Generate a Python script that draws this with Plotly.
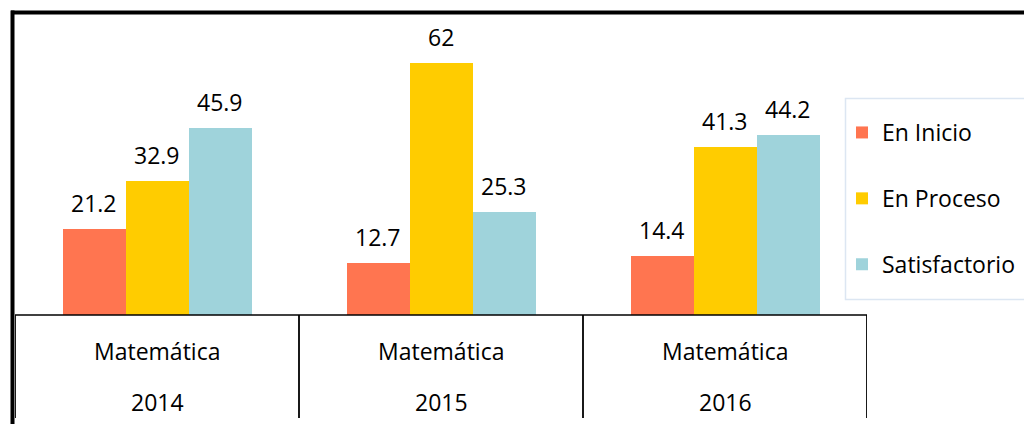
import plotly.graph_objects as go

categories = ["2014", "2015", "2016"]
subject = ["Matemática", "Matemática", "Matemática"]
series_names = ["En Inicio", "En Proceso", "Satisfactorio"]
en_inicio = [21.2, 12.7, 14.4]
en_proceso = [32.9, 62, 41.3]
satisfactorio = [45.9, 25.3, 44.2]
colors = ["#FF7550", "#FFCC00", "#9FD3DB"]

series = [en_inicio, en_proceso, satisfactorio]

W, H = 1024, 424
L, R, T, B = 15, 157, 12, 109
plot_w = W - L - R
plot_h = H - T - B

bar_w = 63 / (plot_w / 3)
FONT = "Open Sans"

fig = go.Figure()
idx = list(range(len(categories)))
for k, (name, vals, col) in enumerate(zip(series_names, series, colors)):
    xs = [i + (k - 1) * bar_w for i in idx]
    fig.add_trace(go.Bar(
        x=xs, y=vals, width=bar_w, name=name, marker_color=col,
        marker_line_width=0, legendgroup=name,
    ))
    for x, v in zip(xs, vals):
        fig.add_annotation(x=x, y=v, text=f"{v:g}", showarrow=False,
                           xref="x", yref="y", yanchor="middle", yshift=26,
                           font=dict(family=FONT, size=23, color="#000"))

# category table labels
for i, (s, c) in enumerate(zip(subject, categories)):
    fig.add_annotation(x=i, y=0, xref="x", yref="paper", text=s, showarrow=False,
                       yanchor="middle", yshift=-36,
                       font=dict(family=FONT, size=23, color="#000"))
    fig.add_annotation(x=i, y=0, xref="x", yref="paper", text=c, showarrow=False,
                       yanchor="middle", yshift=-87,
                       font=dict(family=FONT, size=23, color="#000"))

def px_to_paper_x(px):
    return (px - L) / plot_w

def px_to_paper_y(py):
    return (H - B - py) / plot_h

shapes = []
# separators
for xb in [-0.5, 0.5, 1.5, 2.5]:
    shapes.append(dict(type="line", xref="x", yref="paper", x0=xb, x1=xb,
                       y0=0, y1=px_to_paper_y(418), line=dict(color="#000", width=1.8)))
# axis line
shapes.append(dict(type="line", xref="paper", yref="paper", x0=0, x1=1, y0=0, y1=0,
                   line=dict(color="#000", width=1.6)))
# outer frame (top and left)
shapes.append(dict(type="line", xref="paper", yref="paper",
                   x0=px_to_paper_x(11), x1=px_to_paper_x(1030),
                   y0=px_to_paper_y(12.5), y1=px_to_paper_y(12.5),
                   line=dict(color="#000", width=4)))
shapes.append(dict(type="line", xref="paper", yref="paper",
                   x0=px_to_paper_x(12.5), x1=px_to_paper_x(12.5),
                   y0=px_to_paper_y(10.5), y1=px_to_paper_y(430),
                   line=dict(color="#000", width=4)))
# legend box
shapes.append(dict(type="rect", xref="paper", yref="paper",
                   x0=px_to_paper_x(845.5), x1=px_to_paper_x(1030),
                   y0=px_to_paper_y(299.5), y1=px_to_paper_y(98.5),
                   line=dict(color="#DCE6F2", width=1.5), fillcolor="rgba(0,0,0,0)"))

fig.update_layout(
    width=W, height=H,
    margin=dict(l=L, r=R, t=T, b=B, pad=0, autoexpand=False),
    paper_bgcolor="white", plot_bgcolor="white",
    barmode="overlay", bargap=0,
    shapes=shapes,
    showlegend=True,
    legend=dict(x=px_to_paper_x(842), xanchor="left",
                y=px_to_paper_y(111), yanchor="top",
                font=dict(family=FONT, size=23, color="#000"),
                bgcolor="rgba(0,0,0,0)", borderwidth=0,
                traceorder="grouped", tracegroupgap=33),
    xaxis=dict(range=[-0.5, 2.5], showticklabels=False, showgrid=False,
               zeroline=False, showline=False, ticks=""),
    yaxis=dict(range=[0, plot_h / 4.07], showticklabels=False, showgrid=False,
               zeroline=False, showline=False, ticks=""),
)

fig.write_html("out.html", config={"displayModeBar": False},
               post_script="document.body.style.margin='0';document.body.style.overflow='hidden';")
